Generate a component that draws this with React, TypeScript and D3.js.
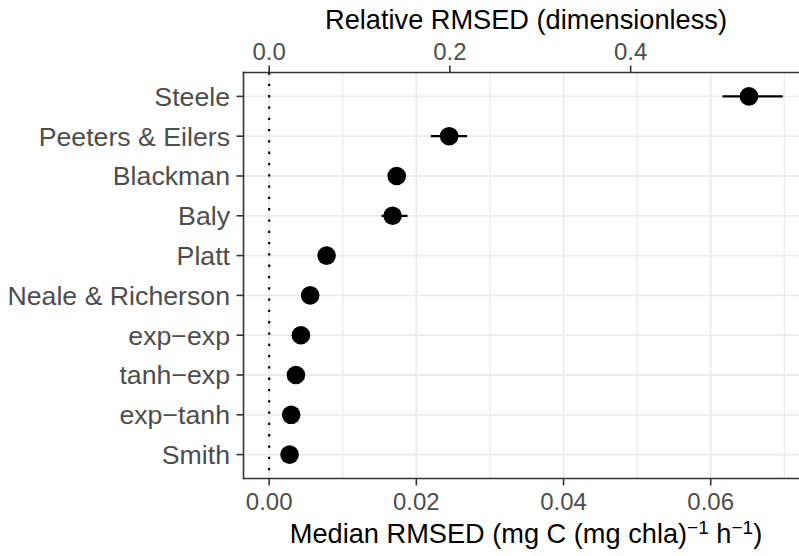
import React from "react";
import * as d3 from "d3";

const models = ["Steele", "Peeters & Eilers", "Blackman", "Baly", "Platt", "Neale & Richerson", "exp\u2212exp", "tanh\u2212exp", "exp\u2212tanh", "Smith"];
const medianRMSED = [0.0652, 0.02446, 0.01733, 0.01677, 0.0078, 0.00557, 0.00431, 0.00363, 0.00299, 0.00277];
const lowerRMSED = [0.0616, 0.02197, 0.0167, 0.01527, 0.0075, 0.0053, 0.0041, 0.0034, 0.0028, 0.0026];
const upperRMSED = [0.0698, 0.0269, 0.0179, 0.0188, 0.0081, 0.0058, 0.0045, 0.0038, 0.0031, 0.0029];
const bottomTicks = [0, 0.02, 0.04, 0.06];
const bottomMinor = [0.01, 0.03, 0.05, 0.07];
const topTicks = [0, 0.2, 0.4];
const relFactor = 0.1228; // median RMSED corresponding to relative RMSED of 1

const W = 799;
const H = 556;
const FONT = "'Liberation Sans', Arial, Helvetica, sans-serif";

export default function App() {
  const panelL = 243.5;
  const panelR = 808.5;
  const panelT = 72.5;
  const panelB = 478.5;

  const lo = 0;
  const hi = d3.max(upperRMSED) as number;
  const pad = (hi - lo) * 0.05;
  const x = d3.scaleLinear().domain([lo - pad, hi + pad]).range([panelL, panelR]);
  const y = d3.scalePoint<string>().domain(models).range([panelT, panelB]).padding(0.6);

  const axisColor = "#333333";
  const gridColor = "#EBEBEB";
  const tickText = "#4D4D4D";

  return (
    <svg width={W} height={H} style={{ position: "absolute", left: 0, top: 0, background: "#fff" }} fontFamily={FONT}>
      <defs>
        <clipPath id="panel">
          <rect x={panelL} y={panelT} width={panelR - panelL} height={panelB - panelT} />
        </clipPath>
      </defs>
      <g clipPath="url(#panel)">
        {bottomMinor.map((v) => (
          <line key={"mn" + v} x1={x(v)} x2={x(v)} y1={panelT} y2={panelB} stroke={gridColor} strokeWidth={1.3} />
        ))}
        {bottomTicks.map((v) => (
          <line key={"mj" + v} x1={x(v)} x2={x(v)} y1={panelT} y2={panelB} stroke={gridColor} strokeWidth={1.8} />
        ))}
        {models.map((m) => (
          <line key={"hg" + m} x1={panelL} x2={panelR} y1={y(m)} y2={y(m)} stroke={gridColor} strokeWidth={1.8} />
        ))}
        <line x1={x(0)} x2={x(0)} y1={panelT} y2={panelB} stroke="#000" strokeWidth={2.2} strokeDasharray="2.3 9" />
        {models.map((m, i) => (
          <line key={"eb" + m} x1={x(lowerRMSED[i])} x2={x(upperRMSED[i])} y1={y(m)} y2={y(m)} stroke="#000" strokeWidth={2.2} />
        ))}
        {models.map((m, i) => (
          <circle key={"pt" + m} cx={x(medianRMSED[i])} cy={y(m)} r={9.3} fill="#000" />
        ))}
      </g>

      {/* axis lines */}
      <line x1={panelL} x2={panelL} y1={panelT - 0.8} y2={panelB + 0.8} stroke={axisColor} strokeWidth={1.6} />
      <line x1={panelL - 0.8} x2={panelR} y1={panelB} y2={panelB} stroke={axisColor} strokeWidth={1.6} />
      <line x1={panelL - 0.8} x2={panelR} y1={panelT} y2={panelT} stroke={axisColor} strokeWidth={1.6} />

      {/* left axis */}
      {models.map((m) => (
        <g key={"yt" + m}>
          <line x1={panelL - 7} x2={panelL} y1={y(m)} y2={y(m)} stroke={axisColor} strokeWidth={1.6} />
          <text x={230} y={(y(m) as number)} dy="0.35em" textAnchor="end" fontSize={26.7} fill={tickText}>
            {m}
          </text>
        </g>
      ))}

      {/* bottom axis */}
      {bottomTicks.map((v) => (
        <g key={"bt" + v}>
          <line x1={x(v)} x2={x(v)} y1={panelB} y2={panelB + 7} stroke={axisColor} strokeWidth={1.6} />
          <text x={x(v)} y={510} textAnchor="middle" fontSize={24} fill={tickText}>
            {d3.format(".2f")(v)}
          </text>
        </g>
      ))}

      {/* top axis */}
      {topTicks.map((v) => (
        <g key={"tt" + v}>
          <line x1={x(v * relFactor)} x2={x(v * relFactor)} y1={panelT - 7} y2={panelT} stroke={axisColor} strokeWidth={1.6} />
          <text x={x(v * relFactor)} y={60} textAnchor="middle" fontSize={24} fill={tickText}>
            {d3.format(".1f")(v)}
          </text>
        </g>
      ))}

      {/* titles */}
      <text x={(panelL + panelR) / 2} y={28.5} textAnchor="middle" fontSize={27.2} fill="#000">
        Relative RMSED (dimensionless)
      </text>
      <text x={(panelL + panelR) / 2} y={543} textAnchor="middle" fontSize={27.2} fill="#000">
        Median RMSED (mg C (mg chla)
        <tspan dy={-9.5} fontSize={19}>{"\u22121"}</tspan>
        <tspan dy={9.5}>{" h"}</tspan>
        <tspan dy={-9.5} fontSize={19}>{"\u22121"}</tspan>
        <tspan dy={9.5}>)</tspan>
      </text>
    </svg>
  );
}
